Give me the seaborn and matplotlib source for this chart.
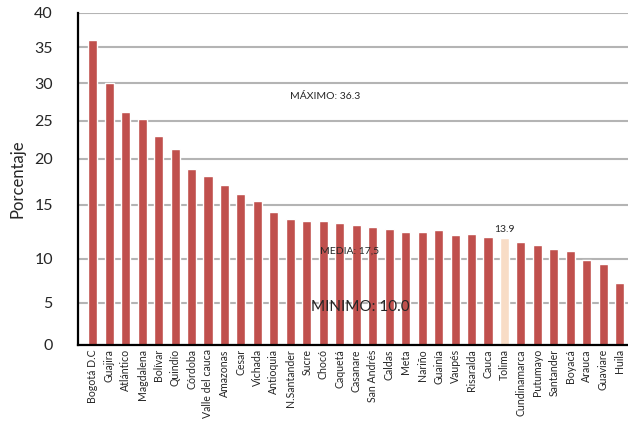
import numpy as np
import pandas as pd
import matplotlib
matplotlib.use("Agg")
import matplotlib.pyplot as plt
import seaborn as sns

# Data
departamentos = ["Bogotá D.C", "Guajira", "Atlántico", "Magdalena", "Bolívar", "Quindío",
                 "Córdoba", "Valle del cauca", "Amazonas", "Cesar", "Vichada", "Antioquia",
                 "N.Santander", "Sucre", "Chocó", "Caquetá", "Casanare", "San Andrés", "Caldas",
                 "Meta", "Nariño", "Guainía", "Vaupés", "Risaralda", "Cauca", "Tolima",
                 "Cundinamarca", "Putumayo", "Santander", "Boyacá", "Arauca", "Guaviare", "Huila"]
porcentaje = [36.0, 30.1, 26.2, 25.3, 23.0, 21.3, 18.9, 18.2, 17.2, 16.2, 15.4, 14.35,
              13.7, 13.5, 13.5, 13.3, 13.1, 12.95, 12.8, 12.5, 12.5, 12.7, 12.2, 12.3,
              12.0, 11.9, 11.55, 11.3, 10.9, 10.7, 9.85, 9.4, 7.3]
destacado = "Tolima"
valor_destacado = "13.9"

# the original axis has unevenly spaced ticks
ticks_y = [0, 5, 10, 15, 20, 25, 30, 35, 40]
pos_y = [0, 42, 86.3, 140, 186, 224, 261.7, 297.7, 332.3]

df = pd.DataFrame({"dep": departamentos, "pct": porcentaje})
colores = ["#f8dcc6" if d == destacado else "#c0504d" for d in departamentos]

sns.set_style("white")
plt.rcParams["font.family"] = ["Lato", "DejaVu Sans"]

fig = plt.figure(figsize=(6.28, 4.22), dpi=100)
ax = fig.add_axes([0.124, 0.1825, 0.876, 0.7875])

fwd = lambda v: np.interp(v, ticks_y, pos_y)
inv = lambda p: np.interp(p, pos_y, ticks_y)
ax.set_yscale("function", functions=(fwd, inv))

sns.barplot(data=df, x="dep", y="pct", hue="dep", palette=colores, legend=False,
            width=0.55, saturation=1, ax=ax)

ax.set_ylim(0, 40)
ax.set_xlim(-0.9, 32.45)
ax.set_yticks(ticks_y)
ax.set_yticklabels([str(t) for t in ticks_y], fontsize=11.5)
ax.yaxis.grid(True, color="#b4b4b4", linewidth=1.5)
ax.set_axisbelow(True)

ax.set_xlabel("")
ax.set_ylabel("Porcentaje", fontsize=12, labelpad=6)
ax.set_xticks(range(len(departamentos)))
ax.set_xticklabels(departamentos, rotation=90, fontsize=7.6, va="top")
ax.set_xticks(np.arange(len(departamentos)) + 0.5, minor=True)
ax.tick_params(axis="x", which="major", length=0, pad=3)
ax.tick_params(axis="x", which="minor", length=11, width=1.6, color="black", direction="out")
ax.tick_params(axis="y", length=13, width=1.6, color="black", pad=5, direction="out")

for s in ["top", "right"]:
    ax.spines[s].set_visible(False)
for s in ["left", "bottom"]:
    ax.spines[s].set_linewidth(1.6)
    ax.spines[s].set_color("black")

ax.text(12.0, 28.3, "MÁXIMO: 36.3", fontsize=7.5, va="center", ha="left")
ax.text(13.8, 10.7, "MEDIA: 17,5", fontsize=7.5, va="center", ha="left")
ax.text(13.25, 4.5, "MINIMO: 10.0", fontsize=11, va="center", ha="left")
i = departamentos.index(destacado)
ax.text(i, porcentaje[i] + 0.4, valor_destacado, fontsize=7.5, ha="center", va="bottom")

fig.savefig("out.png", dpi=100)
